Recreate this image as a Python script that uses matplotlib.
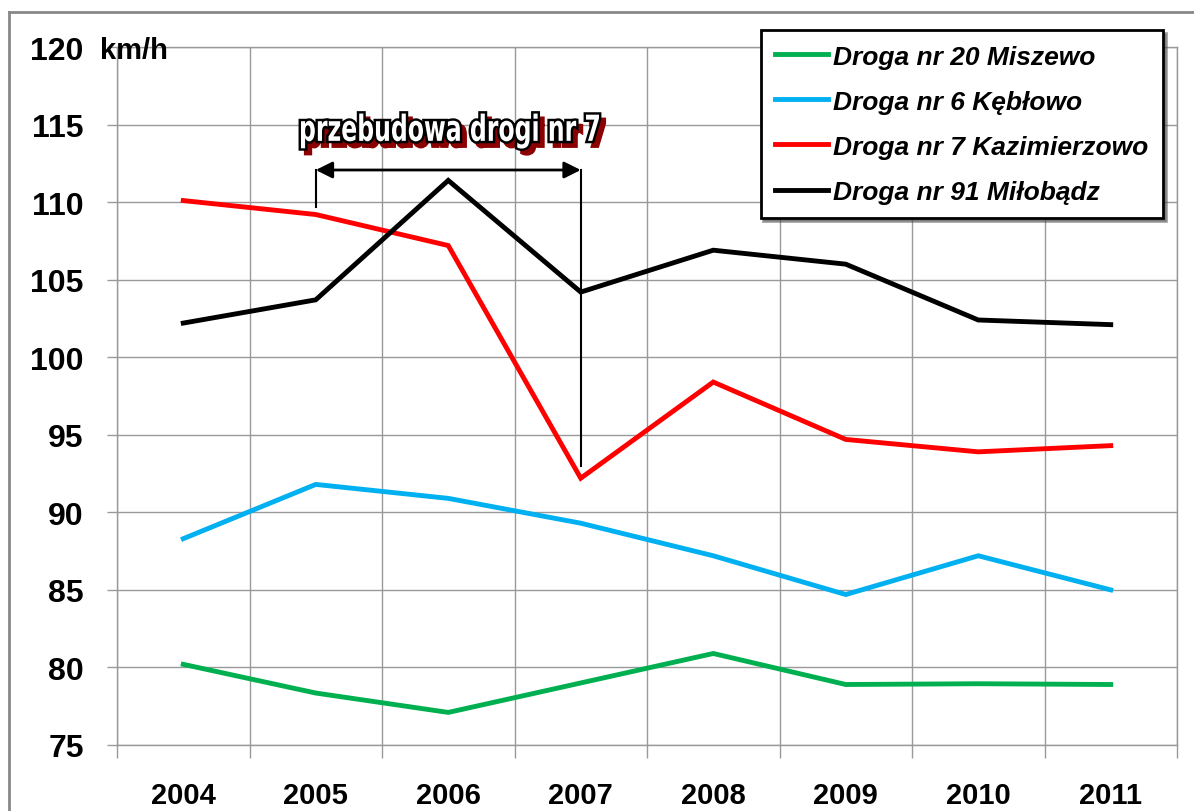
import matplotlib
matplotlib.use('Agg')
import matplotlib.pyplot as plt
from matplotlib.lines import Line2D
from matplotlib.textpath import TextPath
from matplotlib.patches import PathPatch
from matplotlib.font_manager import FontProperties
import matplotlib.transforms as mtrans
import numpy as np

# data (km/h)
years = ['2004', '2005', '2006', '2007', '2008', '2009', '2010', '2011']
miszewo = [80.2, 78.35, 77.1, 79.0, 80.9, 78.9, 78.95, 78.9]
keblowo = [88.3, 91.8, 90.9, 89.3, 87.2, 84.7, 87.2, 85.0]
kazimierzowo = [110.1, 109.2, 107.2, 92.2, 98.4, 94.7, 93.9, 94.3]
milobadz = [102.2, 103.7, 111.4, 104.2, 106.9, 106.0, 102.4, 102.1]
yticks = [75, 80, 85, 90, 95, 100, 105, 110, 115, 120]

names = ['Droga nr 20 Miszewo', 'Droga nr 6 Kębłowo',
         'Droga nr 7 Kazimierzowo', 'Droga nr 91 Miłobądz']
colors = ['#00B050', '#00B0F0', '#FF0000', '#000000']

plt.rcParams['font.family'] = ['Liberation Sans', 'DejaVu Sans']

fig = plt.figure(figsize=(11.94, 8.12), dpi=100)
ax = fig.add_axes([117/1194, 1 - 746/812, 1060/1194, 698/812])

x = np.arange(len(years))
for vals, c, n in zip([miszewo, keblowo, kazimierzowo, milobadz], colors, names):
    ax.plot(x, vals, color=c, lw=3.5, label=n, solid_joinstyle='miter')

ax.set_xlim(-0.5, len(years) - 0.5)
ax.set_ylim(75, 120)
ax.set_yticks(yticks)
ax.set_yticklabels([str(t) for t in yticks], fontsize=23, fontweight='bold')
ax.set_xticks(x)
ax.set_xticklabels(years, fontsize=21, fontweight='bold')
ax.set_xticks(np.arange(-0.5, len(years)), minor=True)
ax.tick_params(axis='x', which='major', length=0, pad=26)
ax.tick_params(axis='x', which='minor', length=9, color='#999999', width=1)
ax.tick_params(axis='y', length=7, color='#999999', width=1, pad=17)
ax.grid(True, axis='y', color='#999999', lw=1)
ax.grid(True, axis='x', which='minor', color='#999999', lw=1)
for s in ax.spines.values():
    s.set_color('#999999')
    s.set_linewidth(1)
ax.set_axisbelow(True)

# unit label
fig.text(100/1194, 1 - 51/812, 'km/h', fontsize=21, fontweight='bold', va='center')

# reconstruction period annotation
ax.annotate('', xy=(1, 112.07), xytext=(3, 112.07),
            arrowprops=dict(arrowstyle='<|-|>', color='black', lw=2,
                            mutation_scale=25, shrinkA=0, shrinkB=0))
ax.plot([1, 1], [112.07, 109.7], color='black', lw=1.5)
ax.plot([3, 3], [112.07, 93.0], color='black', lw=1.5)

# condensed outlined title with red shadow (squeezed text path)
tp = TextPath((0, 0), 'przebudowa drogi nr 7', size=40,
              prop=FontProperties(family='DejaVu Sans', weight='bold'))
ext = tp.get_extents()
sx = 298 / ext.width
sy = 35 / ext.height
base = mtrans.Affine2D().translate(-ext.x0 - ext.width / 2, -ext.y0 - ext.height / 2).scale(sx, sy)
anchor = mtrans.ScaledTranslation(2.013, 114.58, ax.transData)
shadow = PathPatch(tp, transform=base + mtrans.Affine2D().translate(5, -5) + anchor,
                   facecolor='#8B0000', edgecolor='#8B0000', lw=3, zorder=5)
front = PathPatch(tp, transform=base + anchor, facecolor='white',
                  edgecolor='black', lw=3.5, zorder=6)
front_fill = PathPatch(tp, transform=base + anchor, facecolor='white',
                       edgecolor='none', zorder=7)
for p in (shadow, front, front_fill):
    p.set_clip_on(False)
    fig.add_artist(p)

# legend
leg = fig.legend(loc='upper right', bbox_to_anchor=(1163/1194, 1 - 31/812),
                 borderaxespad=0,
                 prop=dict(size=19, weight='bold', style='italic'),
                 frameon=True, fancybox=False, shadow=True, handlelength=2.0,
                 handletextpad=0.2, labelspacing=0.8, borderpad=0.55)
leg.get_frame().set_edgecolor('black')
leg.get_frame().set_linewidth(2)

# outer frame
fig.add_artist(Line2D([9/1194, 9/1194], [0, 1 - 13/812], color='#888888', lw=2))
fig.add_artist(Line2D([9/1194, 1], [1 - 13/812, 1 - 13/812], color='#888888', lw=2))

fig.savefig('out.png', dpi=100)
